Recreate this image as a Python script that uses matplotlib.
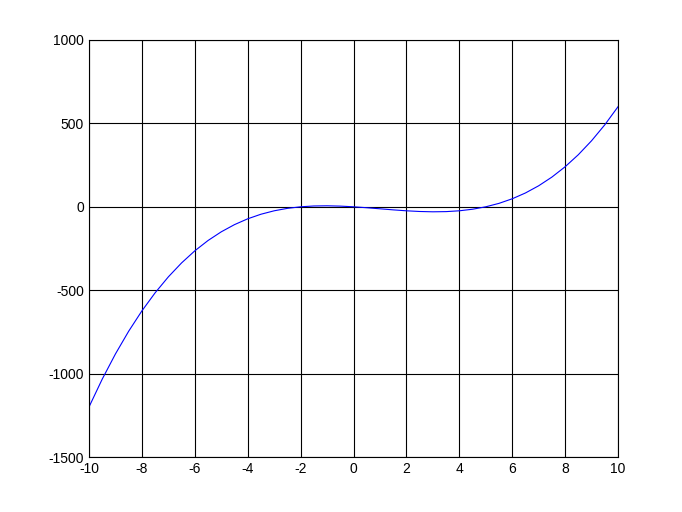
import matplotlib
matplotlib.use('Agg')
import matplotlib.pyplot as plt

# values, every 0.5 on x
x = [-10, -9.5, -9, -8.5, -8, -7.5, -7, -6.5, -6, -5.5, -5, -4.5, -4, -3.5, -3, -2.5, -2,
     -1.5, -1, -0.5, 0, 0.5, 1, 1.5, 2, 2.5, 3, 3.5, 4, 4.5, 5, 5.5, 6, 6.5, 7, 7.5, 8,
     8.5, 9, 9.5, 10]
y = [-1200, -1033.1, -882, -745.9, -624, -515.6, -420, -336.4, -264, -202.1, -150, -106.9,
     -72, -44.6, -24, -9.4, 0, 4.9, 6, 4.1, 0, -5.6, -12, -18.4, -24, -28.1, -30, -28.9,
     -24, -14.6, 0, 20.6, 48, 82.9, 126, 178.1, 240, 312.4, 396, 491.6, 600]

xticks = [-10, -8, -6, -4, -2, 0, 2, 4, 6, 8, 10]
yticks = [-1500, -1000, -500, 0, 500, 1000]

plt.rcParams['font.family'] = ['Liberation Sans', 'DejaVu Sans']
plt.rcParams['axes.unicode_minus'] = False

fig = plt.figure(figsize=(6.82, 5.12), dpi=100)
ax = fig.add_axes([0.1305, 0.1074, 0.7757, 0.8145])
ax.plot(x, y, color='blue', linewidth=0.8)
ax.set_xlim(-10, 10)
ax.set_ylim(-1500, 1000)
ax.set_xticks(xticks)
ax.set_yticks(yticks)
ax.grid(True, color='black', linestyle='-', linewidth=0.8)
ax.tick_params(labelsize=10, length=0, colors='black')
for s in ax.spines.values():
    s.set_linewidth(0.8)

fig.savefig('out.png', dpi=100)
